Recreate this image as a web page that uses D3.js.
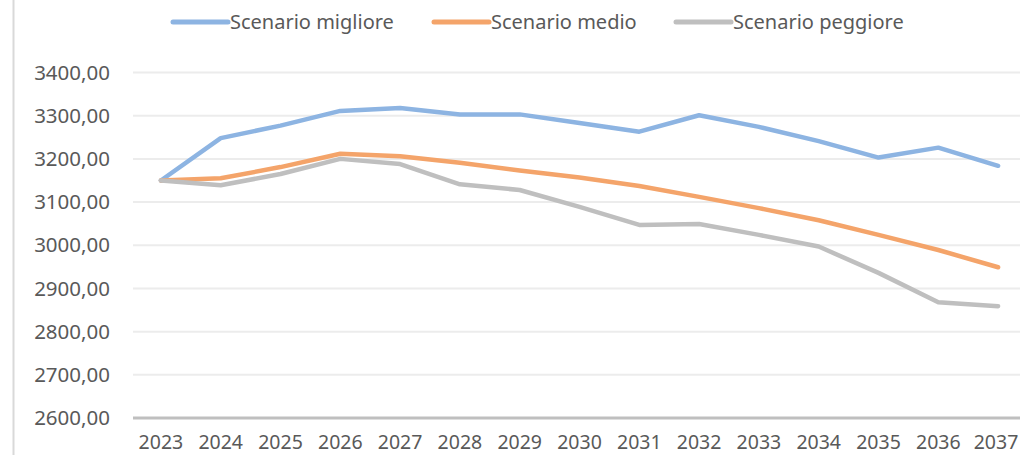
<!DOCTYPE html>
<html><head><meta charset="utf-8">
<script src="https://cdn.jsdelivr.net/npm/d3@7"></script>
<style>html,body{margin:0;padding:0;background:#fff;overflow:hidden}</style>
</head><body>
<svg id="c" width="1020" height="455"></svg>
<script>
const years = ["2023","2024","2025","2026","2027","2028","2029","2030","2031","2032","2033","2034","2035","2036","2037"];
const migliore = [3150,3248,3277,3311,3318,3303,3303,3283,3263,3301,3274,3241,3203,3226,3184];
const medio    = [3150,3155,3181,3212,3206,3191,3173,3157,3137,3112,3086,3058,3024,2989,2949];
const peggiore = [3150,3139,3165,3200,3188,3141,3128,3089,3047,3049,3024,2997,2936,2868,2859];
const yTicks = [2600,2700,2800,2900,3000,3100,3200,3300,3400];
const seriesNames = ["Scenario migliore","Scenario medio","Scenario peggiore"];
const colors = ["#8DB4E2","#F4A46A","#BFBFBF"];

const svg = d3.select("#c");
const font = "'Noto Sans', 'Open Sans', sans-serif";
const x = d3.scaleBand().domain(years).range([131, 1028]);
const y = d3.scaleLinear().domain([2600, 3400]).range([418, 72.5]);

// left border
svg.append("line").attr("x1",13.5).attr("x2",13.5).attr("y1",0).attr("y2",455)
  .attr("stroke","#d9d9d9").attr("stroke-width",2);

// gridlines
svg.append("g").selectAll("line").data(yTicks.filter(d=>d>2600)).join("line")
  .attr("x1", x.range()[0]+2).attr("x2", 1020)
  .attr("y1", d=>y(d)).attr("y2", d=>y(d))
  .attr("stroke","#ececec").attr("stroke-width",2);

// axis baseline
svg.append("line").attr("x1", x.range()[0]+2).attr("x2", 1020)
  .attr("y1", y(2600)).attr("y2", y(2600))
  .attr("stroke","#bfbfbf").attr("stroke-width",3);

// y labels
svg.append("g").selectAll("text").data(yTicks).join("text")
  .attr("x", 110).attr("y", d=>y(d)).attr("dy","0.35em")
  .attr("text-anchor","end").attr("font-family",font).attr("font-size",20.5)
  .attr("fill","#595959").text(d=>d3.format(".2f")(d).replace(".",","));

// x labels
svg.append("g").selectAll("text").data(years).join("text")
  .attr("x", d=>Math.min(x(d)+x.bandwidth()/2, 996)).attr("y", 448.5)
  .attr("text-anchor","middle").attr("font-family",font).attr("font-size",19.5)
  .attr("fill","#595959").text(d=>d);

// lines
const line = d3.line().x((d,i)=>x(years[i])+x.bandwidth()/2).y(d=>y(d));
[migliore, medio, peggiore].forEach((s,i)=>{
  svg.append("path").datum(s).attr("d", line).attr("fill","none")
    .attr("stroke", colors[i]).attr("stroke-width",4.5)
    .attr("stroke-linejoin","round").attr("stroke-linecap","round");
});

// legend
const legX = [173, 434, 676];
seriesNames.forEach((n,i)=>{
  svg.append("line").attr("x1",legX[i]).attr("x2",legX[i]+55).attr("y1",22).attr("y2",22)
    .attr("stroke",colors[i]).attr("stroke-width",5).attr("stroke-linecap","round");
  svg.append("text").attr("x",legX[i]+57).attr("y",22).attr("dy","0.35em")
    .attr("font-family",font).attr("font-size",20).attr("fill","#595959").text(n);
});
</script>
</body></html>
